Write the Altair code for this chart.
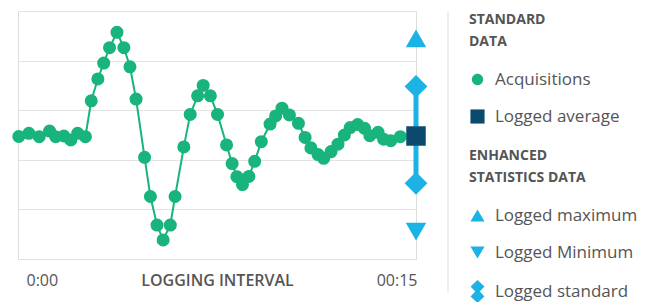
import altair as alt
import pandas as pd

# Acquisitions (time in minutes, value on a 0-100 scale)
times = [0.03, 0.41, 0.80, 1.19, 1.42, 1.73, 1.99, 2.25, 2.54, 2.76,
         3.01, 3.23, 3.45, 3.73, 3.99, 4.22, 4.45, 4.77, 4.99, 5.24,
         5.47, 5.74, 5.92, 6.25, 6.49, 6.77, 6.98, 7.25, 7.52, 7.86,
         8.07, 8.25, 8.46, 8.70, 8.92, 9.17, 9.50, 9.71, 9.95, 10.23,
         10.57, 10.82, 11.04, 11.31, 11.52, 11.80, 12.06, 12.30, 12.52, 12.80,
         13.06, 13.26, 13.57, 13.78, 14.05, 14.41]
values = [49.4, 50.7, 49.3, 51.6, 49.3, 49.6, 48.0, 50.7, 49.3, 63.8,
          72.6, 79.0, 85.2, 91.4, 85.2, 77.5, 64.5, 41.0, 25.2, 13.7,
          7.7, 13.7, 25.2, 45.2, 58.3, 65.8, 70.0, 65.8, 58.3, 46.0,
          38.5, 33.2, 30.0, 33.3, 39.4, 47.3, 54.4, 57.7, 60.8, 58.1,
          54.7, 49.0, 44.8, 42.1, 40.6, 43.3, 46.3, 50.0, 53.0, 54.2,
          52.7, 49.7, 51.1, 48.3, 47.7, 49.3]

# Logged statistics at the end of the interval
log_time = 15
logged_max = 89.0
logged_std_hi = 69.6
logged_avg = 49.6
logged_std_lo = 30.5
logged_min = 11.0

standard_items = ["Acquisitions", "Logged average"]
enhanced_items = ["Logged maximum", "Logged Minimum", "Logged standard"]

GREEN = "#18b47b"
NAVY = "#0b4a6c"
BLUE = "#1bb2e6"
TEXT = "#555555"
FONT = "Open Sans"

circle_path = "M0.8,0A0.8,0.8,0,1,1,-0.8,0A0.8,0.8,0,1,1,0.8,0Z"
hourglass_path = "M0,-1.62L0.98,-0.72L0.32,0L0.98,0.72L0,1.62L-0.98,0.72L-0.32,0L-0.98,-0.72Z"

acq = pd.DataFrame({"t": times, "v": values})
avg_df = pd.DataFrame({"t": [log_time], "v": [logged_avg]})
std_df = pd.DataFrame({"t": [log_time], "lo": [logged_std_lo], "hi": [logged_std_hi]})
std_pts = pd.DataFrame({"t": [log_time, log_time], "v": [logged_std_hi, logged_std_lo]})
max_df = pd.DataFrame({"t": [log_time], "v": [logged_max]})
min_df = pd.DataFrame({"t": [log_time], "v": [logged_min]})
leg1_df = pd.DataFrame({"item": standard_items})
leg2_df = pd.DataFrame({"item": enhanced_items})

x_enc = alt.X(
    "t:Q",
    scale=alt.Scale(domain=[0, 15], nice=False, zero=False),
    axis=alt.Axis(
        values=[0, 15],
        labelExpr="datum.value == 0 ? '0:00' : '00:15'",
        ticks=False, domain=False, grid=False,
        labelAlign={"condition": {"test": "datum.value == 0", "value": "left"}, "value": "right"},
        labelOffset={"condition": {"test": "datum.value == 0", "value": 8}, "value": 1},
        labelBaseline="middle",
        labelPadding=21,
        labelFont=FONT, labelFontSize=16, labelColor=TEXT,
        title="LOGGING INTERVAL",
        titleFont=FONT, titleFontSize=16, titleFontWeight=600, titleColor=TEXT,
        titleBaseline="middle", titleY=21,
    ),
)
y_enc = alt.Y(
    "v:Q",
    scale=alt.Scale(domain=[0, 100], nice=False),
    axis=alt.Axis(values=[0, 20, 40, 60, 80, 100], labels=False, ticks=False,
                  domain=False, grid=True, gridColor="#e3e3e3", title=None),
)
y_plain = alt.Y("v:Q", scale=alt.Scale(domain=[0, 100], nice=False))

line = alt.Chart(acq).mark_line(color=GREEN, strokeWidth=2).encode(x=x_enc, y=y_enc)
dots = alt.Chart(acq).mark_circle(color=GREEN, size=170, opacity=1).encode(x="t:Q", y=y_plain)
std_rule = alt.Chart(std_df).mark_rule(color=BLUE, strokeWidth=5).encode(
    x="t:Q", y=alt.Y("lo:Q", scale=alt.Scale(domain=[0, 100], nice=False)), y2="hi:Q")
std_diam = alt.Chart(std_pts).mark_point(shape="diamond", filled=True, size=520,
                                         color=BLUE, opacity=1).encode(x="t:Q", y=y_plain)
max_tri = alt.Chart(max_df).mark_point(shape="triangle-up", filled=True, size=420,
                                       color=BLUE, opacity=1).encode(x="t:Q", y=y_plain)
min_tri = alt.Chart(min_df).mark_point(shape="triangle-down", filled=True, size=420,
                                       color=BLUE, opacity=1).encode(x="t:Q", y=y_plain)
avg_sq = alt.Chart(avg_df).mark_square(color=NAVY, size=380, opacity=1).encode(x="t:Q", y=y_plain)

divider = alt.Chart(avg_df).mark_rule(color="#dddddd", strokeWidth=1).encode(
    x=alt.value(430), y=alt.value(1), y2=alt.value(282))


def make_legend(title, ly):
    return alt.Legend(
        title=title, orient="none", legendX=451, legendY=ly,
        titleFont=FONT, titleFontSize=14, titleFontWeight="bold", titleColor=TEXT,
        titleLineHeight=22, titlePadding=22, titleAnchor="start",
        labelFont=FONT, labelFontSize=17, labelColor=TEXT, labelOffset=9,
        labelLimit=300, rowPadding=19, symbolSize=200, symbolOpacity=1,
        symbolStrokeWidth=0, direction="vertical",
    )


leg1 = make_legend(["STANDARD", "DATA"], 2)
leg2 = make_legend(["ENHANCED", "STATISTICS DATA"], 138)

legend1 = alt.Chart(leg1_df).mark_point(filled=True, opacity=0).encode(
    color=alt.Color("item:N", scale=alt.Scale(domain=standard_items, range=[GREEN, NAVY]), legend=leg1),
    shape=alt.Shape("item:N", scale=alt.Scale(domain=standard_items, range=[circle_path, "square"]), legend=leg1),
)
legend2 = alt.Chart(leg2_df).mark_point(filled=True, opacity=0).encode(
    color=alt.Color("item:N", scale=alt.Scale(domain=enhanced_items, range=[BLUE, BLUE, BLUE]), legend=leg2),
    shape=alt.Shape("item:N", scale=alt.Scale(domain=enhanced_items,
                                              range=["triangle-up", "triangle-down", hourglass_path]), legend=leg2),
)

chart = alt.layer(
    line, dots, std_rule, std_diam, max_tri, min_tri, avg_sq, divider, legend1, legend2
).resolve_scale(
    color="independent", shape="independent"
).properties(
    width=398, height=248,
    padding={"left": 4, "top": 3, "right": 2, "bottom": 0},
    background="white",
).configure_view(stroke="#dddddd", strokeWidth=1)

chart.save("out.html", embed_options={"renderer": "svg", "actions": False})
